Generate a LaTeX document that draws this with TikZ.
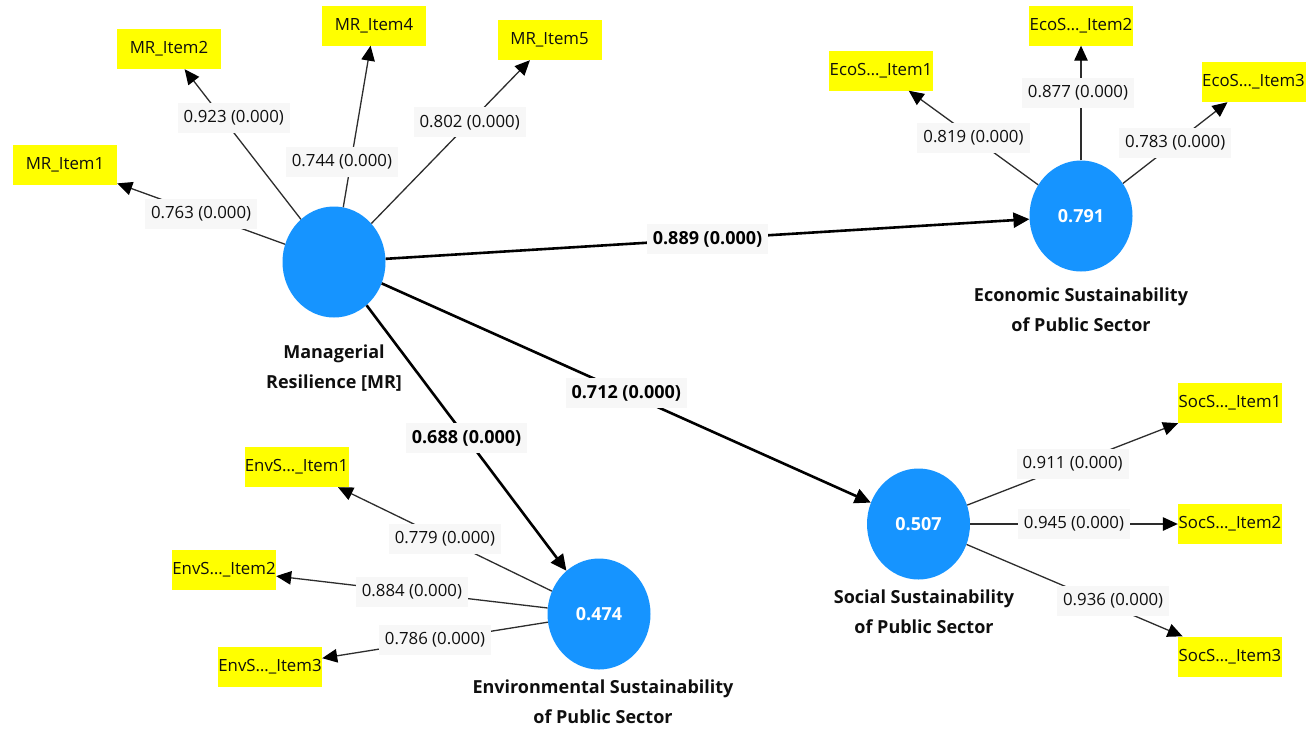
\documentclass[tikz,border=0pt]{standalone}
\usepackage{fontspec}
\setmainfont{Open Sans}
\usetikzlibrary{shapes.geometric,arrows.meta}
\definecolor{lvblue}{RGB}{22,148,255}
\definecolor{indyellow}{RGB}{255,255,0}
\definecolor{lblbg}{RGB}{247,247,247}
\definecolor{txtcol}{RGB}{15,15,15}
\definecolor{mline}{RGB}{45,45,45}
\begin{document}
\begin{tikzpicture}[x=1pt,y=-1pt,
  lv/.style={ellipse, fill=lvblue, draw=none, minimum width=103pt, minimum height=111pt, inner sep=0pt, text=white, font=\bfseries\fontsize{18}{22}\selectfont},
  ind/.style={rectangle, fill=indyellow, minimum width=104pt, minimum height=40pt, inner sep=0pt, text=txtcol, font=\fontsize{16.8}{20}\selectfont},
  mlbl/.style={fill=lblbg, inner xsep=6pt, inner ysep=0pt, minimum height=30pt, text=txtcol, font=\fontsize{16.8}{20}\selectfont},
  slbl/.style={fill=lblbg, inner xsep=6pt, inner ysep=0pt, minimum height=30pt, text=black, font=\bfseries\fontsize{18}{20}\selectfont},
  mpath/.style={draw=mline, line width=1.3pt, -{Triangle[length=15pt,width=13.5pt,black]}},
  spath/.style={draw=black, line width=2.6pt, -{Triangle[length=16pt,width=15pt,black]}},
  lvname/.style={align=center, text=txtcol, inner sep=0pt, font=\bfseries\fontsize{18}{30}\selectfont},
]
\useasboundingbox (0,0) rectangle (1316,729);
\fill[white] (0,0) rectangle (1316,729);

% latent variables
\node[lv] (mr) at (334,262) {};
\node[lv] (eco) at (1081,216) {0.791};
\node[lv] (soc) at (918.5,524) {0.507};
\node[lv] (env) at (599,614) {0.474};

% names
\node[lvname] (nmr) at (334,368) {Managerial\\Resilience [MR]};
\node[lvname] (neco) at (1081,310) {Economic Sustainability\\of Public Sector};
\node[lvname] (nsoc) at (924,612) {Social Sustainability\\of Public Sector};
\node[lvname] (nenv) at (603,702) {Environmental Sustainability\\of Public Sector};

% indicators
\node[ind] (mr1) at (65,164.5) {MR\_Item1};
\node[ind] (mr2) at (169,49) {MR\_Item2};
\node[ind] (mr4) at (374,25.5) {MR\_Item4};
\node[ind] (mr5) at (549.5,40) {MR\_Item5};
\node[ind] (eco1) at (881,70.5) {EcoS…\_Item1};
\node[ind] (eco2) at (1081,25.5) {EcoS…\_Item2};
\node[ind] (eco3) at (1253.5,82) {EcoS…\_Item3};
\node[ind] (soc1) at (1230,403) {SocS…\_Item1};
\node[ind] (soc2) at (1230,524) {SocS…\_Item2};
\node[ind] (soc3) at (1230,656.5) {SocS…\_Item3};
\node[ind] (env1) at (296.5,467) {EnvS…\_Item1};
\node[ind] (env2) at (224,570) {EnvS…\_Item2};
\node[ind] (env3) at (270,666.5) {EnvS…\_Item3};

% measurement paths
\draw[mpath] (mr) -- (mr1) node[mlbl,pos=0.5] (lmr1) {0.763 (0.000)};
\draw[mpath] (mr) -- (mr2) node[mlbl,pos=0.62,xshift=5pt,yshift=8pt] (lmr2) {0.923 (0.000)};
\draw[mpath] (mr) -- (mr4) node[mlbl,pos=0.28,xshift=-9pt] (lmr4) {0.744 (0.000)};
\draw[mpath] (mr) -- (mr5) node[mlbl,pos=0.62] (lmr5) {0.802 (0.000)};
\draw[mpath] (eco) -- (eco1) node[mlbl,pos=0.5] (leco1) {0.819 (0.000)};
\draw[mpath] (eco) -- (eco2) node[mlbl,pos=0.59,xshift=-3pt] (leco2) {0.877 (0.000)};
\draw[mpath] (eco) -- (eco3) node[mlbl,pos=0.5] (leco3) {0.783 (0.000)};
\draw[mpath] (soc) -- (soc1) node[mlbl,pos=0.5] (lsoc1) {0.911 (0.000)};
\draw[mpath] (soc) -- (soc2) node[mlbl,pos=0.5] (lsoc2) {0.945 (0.000)};
\draw[mpath] (soc) -- (soc3) node[mlbl,pos=0.66,xshift=4pt,yshift=4pt] (lsoc3) {0.936 (0.000)};
\draw[mpath] (env) -- (env1) node[mlbl,pos=0.5] (lenv1) {0.779 (0.000)};
\draw[mpath] (env) -- (env2) node[mlbl,pos=0.5] (lenv2) {0.884 (0.000)};
\draw[mpath] (env) -- (env3) node[mlbl,pos=0.5] (lenv3) {0.786 (0.000)};

% structural paths
\draw[spath] (mr) -- (eco) node[slbl,pos=0.5] (leco) {0.889 (0.000)};
\draw[spath] (mr) -- (env) node[slbl,pos=0.5] (lenv) {0.688 (0.000)};
\draw[spath] (mr) -- (soc) node[slbl,pos=0.5] (lsoc) {0.712 (0.000)};
\end{tikzpicture}
\end{document}
